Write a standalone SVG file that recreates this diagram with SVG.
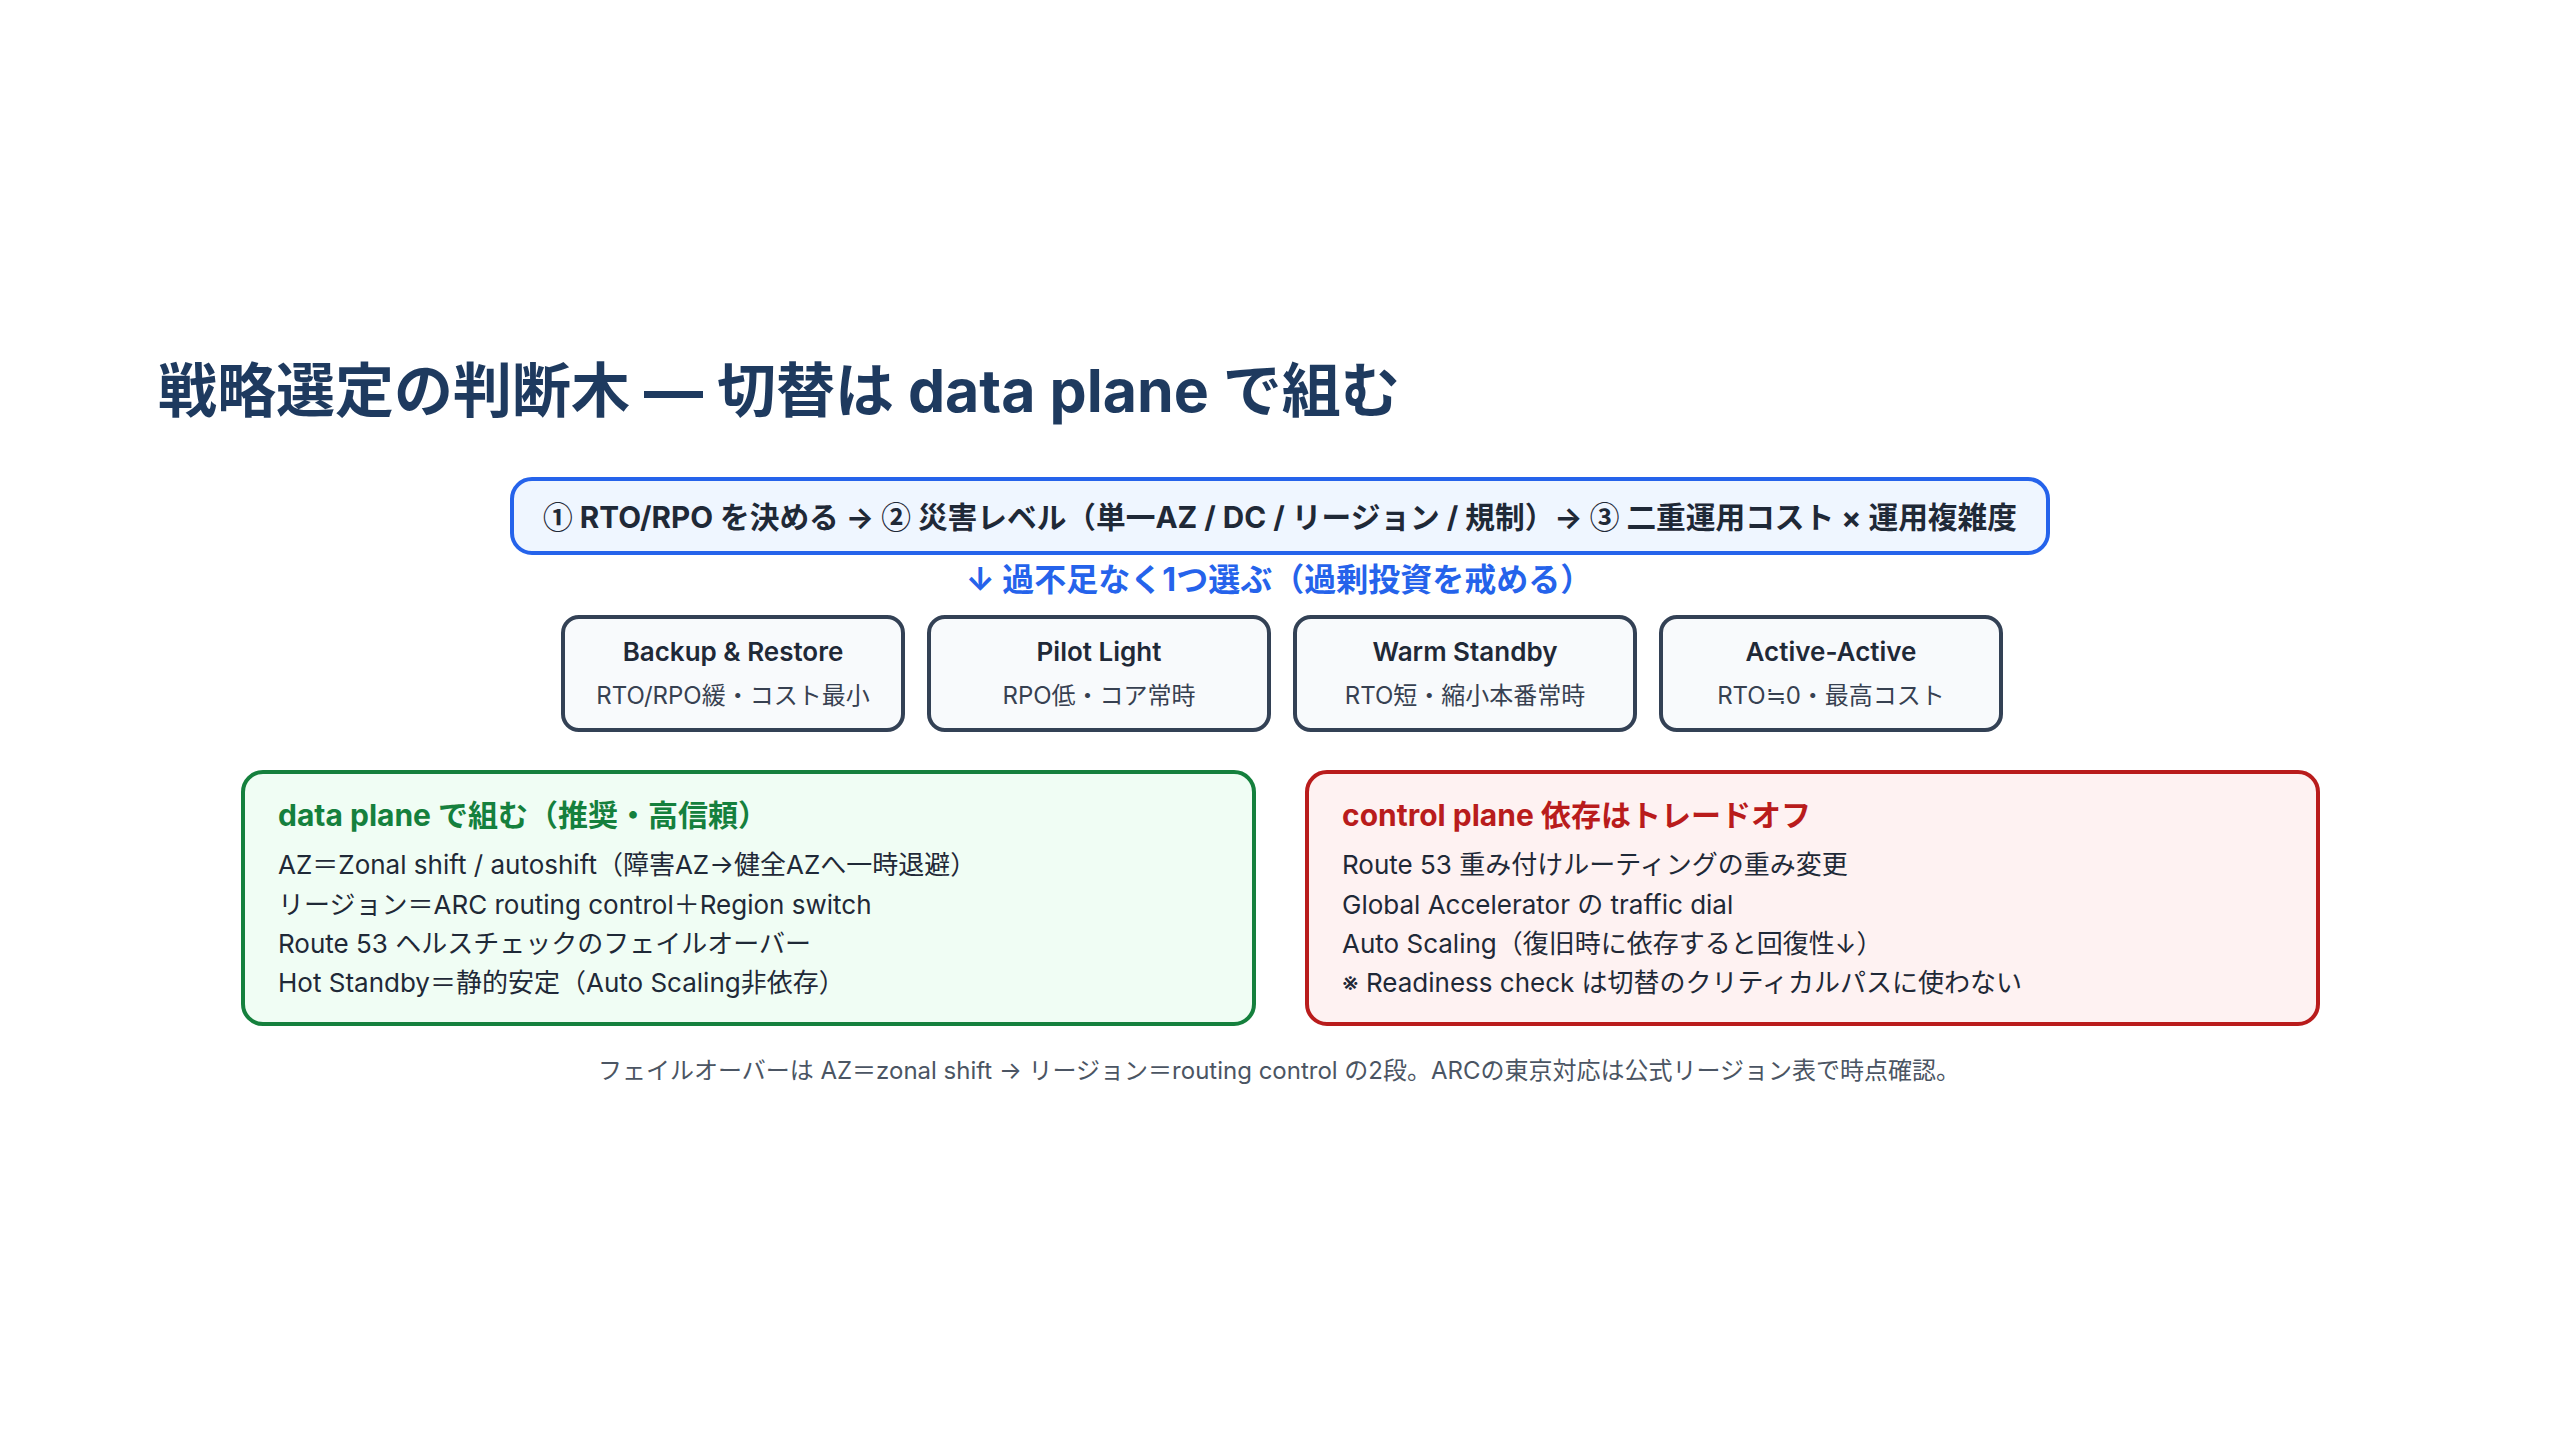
<svg xmlns="http://www.w3.org/2000/svg" width="2560" height="1440" viewBox="0 0 2560 1440">
<style>
text{font-family:Inter,"Noto Sans CJK JP","Noto Sans",sans-serif}
.cj{font-family:"Noto Sans CJK JP",sans-serif}
.title{font-size:59px;font-weight:700;fill:#1e3a5f}
.flow{fill:#eff6ff;stroke:#2563eb;stroke-width:4}
.flowt{font-size:29.7px;font-weight:700;fill:#1f2937}
.pick{font-size:32px;font-weight:700;fill:#2563eb}
.strat{fill:#f8fafc;stroke:#334155;stroke-width:4}
.sh{font-size:26px;font-weight:600;fill:#1f2937}
.ss{font-size:24px;fill:#374151}
.gbox{fill:#f0fdf4;stroke:#15803d;stroke-width:4}
.rbox{fill:#fef2f2;stroke:#b91c1c;stroke-width:4}
.gh{font-size:30px;font-weight:700;fill:#15803d}
.rh{font-size:30px;font-weight:700;fill:#b91c1c}
.li{font-size:26px;fill:#1f2937}
.note{font-size:24px;fill:#4b5563}
</style>
<rect width="2560" height="1440" fill="#ffffff"/>
<g id="title"><text class="title" x="158" y="412">戦略選定の判断木 — 切替は data plane で組む</text></g>
<g id="flow">
<rect class="flow" x="512" y="479" width="1536" height="74" rx="20"/>
<text class="flowt" x="1280" y="528" text-anchor="middle"><tspan class="cj">①</tspan> RTO/RPO を決める → <tspan class="cj">②</tspan> 災害レベル（単一AZ / DC / リージョン / 規制）→ <tspan class="cj">③</tspan> 二重運用コスト × 運用複雑度</text>
</g>
<g id="pick"><text class="pick" x="1279" y="591" text-anchor="middle">↓ 過不足なく1つ選ぶ（過剰投資を戒める）</text></g>
<g id="backup">
<rect class="strat" x="563" y="617" width="340" height="113" rx="16"/>
<text class="sh" x="733" y="661" text-anchor="middle">Backup &amp; Restore</text>
<text class="ss" x="733" y="704" text-anchor="middle">RTO/RPO緩・コスト最小</text>
</g>
<g id="pilot">
<rect class="strat" x="929" y="617" width="340" height="113" rx="16"/>
<text class="sh" x="1099" y="661" text-anchor="middle">Pilot Light</text>
<text class="ss" x="1099" y="704" text-anchor="middle">RPO低・コア常時</text>
</g>
<g id="warm">
<rect class="strat" x="1295" y="617" width="340" height="113" rx="16"/>
<text class="sh" x="1465" y="661" text-anchor="middle">Warm Standby</text>
<text class="ss" x="1465" y="704" text-anchor="middle">RTO短・縮小本番常時</text>
</g>
<g id="active">
<rect class="strat" x="1661" y="617" width="340" height="113" rx="16"/>
<text class="sh" x="1831" y="661" text-anchor="middle">Active-Active</text>
<text class="ss" x="1831" y="704" text-anchor="middle">RTO≒0・最高コスト</text>
</g>
<g id="dataplane">
<rect class="gbox" x="243" y="772" width="1011" height="252" rx="20"/>
<text class="gh" x="278" y="826">data plane で組む（推奨・高信頼）</text>
<text class="li" x="278" y="874">AZ＝Zonal shift / autoshift（障害AZ→健全AZへ一時退避）</text>
<text class="li" x="278" y="914">リージョン＝ARC routing control＋Region switch</text>
<text class="li" x="278" y="953">Route 53 ヘルスチェックのフェイルオーバー</text>
<text class="li" x="278" y="992">Hot Standby＝静的安定（Auto Scaling非依存）</text>
</g>
<g id="controlplane">
<rect class="rbox" x="1307" y="772" width="1011" height="252" rx="20"/>
<text class="rh" x="1342" y="826">control plane 依存はトレードオフ</text>
<text class="li" x="1342" y="874">Route 53 重み付けルーティングの重み変更</text>
<text class="li" x="1342" y="914">Global Accelerator の traffic dial</text>
<text class="li" x="1342" y="953">Auto Scaling（復旧時に依存すると回復性↓）</text>
<text class="li" x="1342" y="992">※ Readiness check は切替のクリティカルパスに使わない</text>
</g>
<g id="footnote"><text class="note" x="1279" y="1079" text-anchor="middle">フェイルオーバーは AZ＝zonal shift → リージョン＝routing control の2段。ARCの東京対応は公式リージョン表で時点確認。</text></g>
<g id="connectors"/>
</svg>
